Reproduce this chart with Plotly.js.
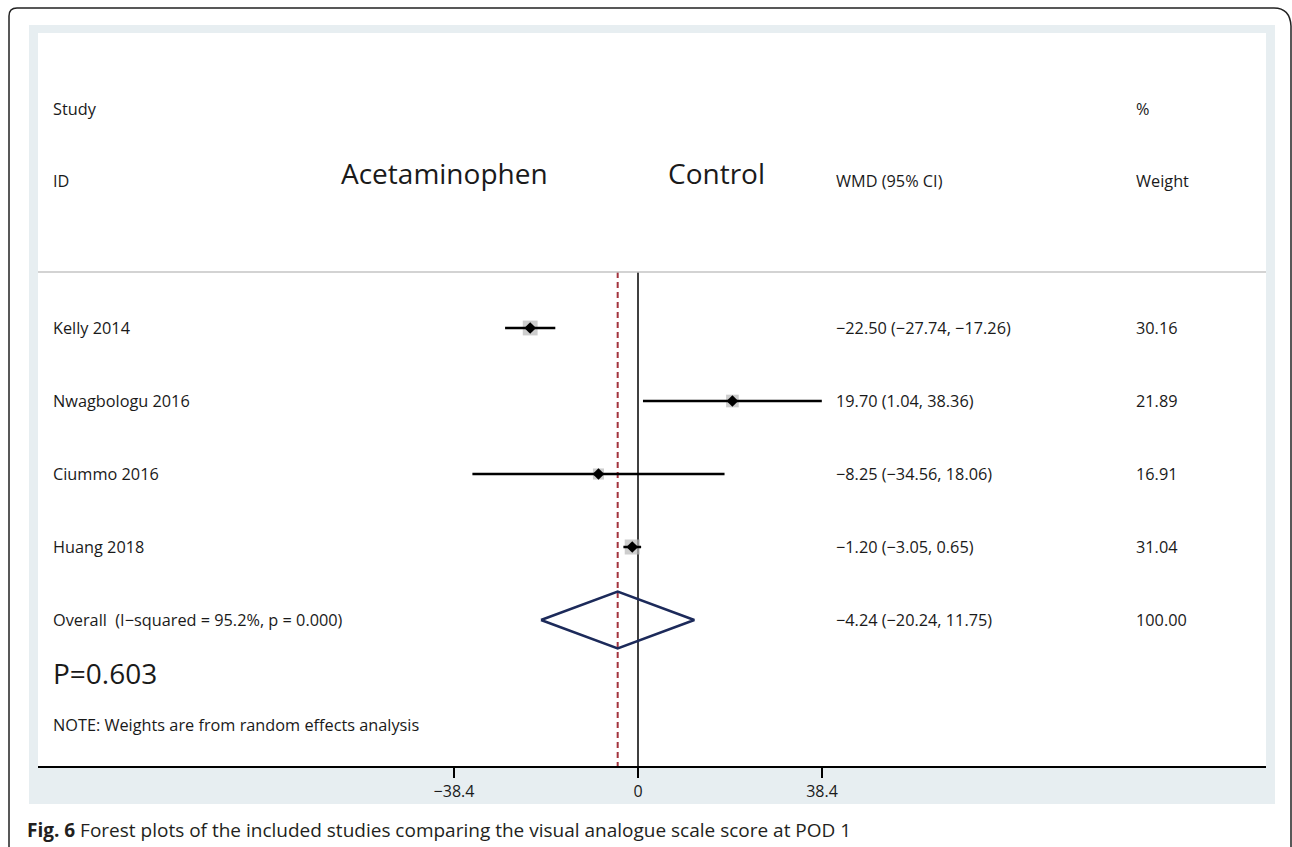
<!DOCTYPE html>
<html>
<head>
<meta charset="utf-8">
<script src="https://cdn.plot.ly/plotly-3.0.1.min.js"></script>
<style>
html,body{margin:0;padding:0;background:#fff;}
#chart{width:1292px;height:847px;}
</style>
</head>
<body>
<div id="chart"></div>
<script>
// ---- data ----
const studies = ["Kelly 2014", "Nwagbologu 2016", "Ciummo 2016", "Huang 2018"];
const estimates = [-22.50, 19.70, -8.25, -1.20];
const lowerCI = [-27.74, 1.04, -34.56, -3.05];
const upperCI = [-17.26, 38.36, 18.06, 0.65];
const weights = [30.16, 21.89, 16.91, 31.04];
const overallLabel = "Overall  (I\u2212squared = 95.2%, p = 0.000)";
const overallEst = -4.24;
const overallLower = -20.24;
const overallUpper = 11.75;
const overallWeight = 100.00;
const tickVals = [-38.4, 0, 38.4];
const tickText = ["\u221238.4", "0", "38.4"];
const nullValue = 0;
const pValueText = "P=0.603";
const noteText = "NOTE: Weights are from random effects analysis";
const captionBold = "Fig. 6";
const captionText = "Forest plots of the included studies comparing the visual analogue scale score at POD 1";

// ---- helpers ----
const fmt = v => (v < 0 ? "\u2212" : "") + Math.abs(v).toFixed(2);
const ciText = (e, l, u) => fmt(e) + " (" + fmt(l) + ", " + fmt(u) + ")";

const rows = studies.map((s, i) => i + 1);
const overallRow = studies.length + 1;
const headerLineY = 0.233;
const yBottom = 7.0;
const yTop = -3.041;

// pixel->paper helpers for frame decoration
const PL = 38, PR = 1266, PT = 33, PB = 766;
const X = px => (px - PL) / (PR - PL);
const Y = py => (PB - py) / (PB - PT);

const FONT = "Open Sans, Noto Sans, sans-serif";
const txtFont = {family: FONT, size: 16.3, color: "#1a1a1a"};
const bigFont = {family: FONT, size: 28, color: "#1a1a1a"};

// CI lines
const ciX = [], ciY = [];
rows.forEach((r, i) => { ciX.push(lowerCI[i], upperCI[i], null); ciY.push(r, r, null); });

const traces = [
  { // reference (null) line
    x: [nullValue, nullValue], y: [headerLineY, yBottom], mode: "lines",
    line: {color: "#000", width: 1.5}, hoverinfo: "skip", showlegend: false
  },
  { // pooled estimate dashed line
    x: [overallEst, overallEst], y: [headerLineY, yBottom], mode: "lines",
    line: {color: "#a3333d", width: 2, dash: "6px,4px"}, hoverinfo: "skip", showlegend: false
  },
  { // weight squares
    x: estimates, y: rows, mode: "markers",
    marker: {symbol: "square", color: "#b8b8b8", size: weights.map(w => 2.7 * Math.sqrt(w)), line: {width: 0}},
    hoverinfo: "skip", showlegend: false
  },
  { // CI lines
    x: ciX, y: ciY, mode: "lines",
    line: {color: "#000", width: 2.5}, hoverinfo: "skip", showlegend: false
  },
  { // point estimates
    x: estimates, y: rows, mode: "markers",
    marker: {symbol: "diamond", color: "#000", size: 9},
    hoverinfo: "skip", showlegend: false
  },
  { // overall diamond
    x: [overallLower, overallEst, overallUpper, overallEst, overallLower],
    y: [overallRow, overallRow - 0.39, overallRow, overallRow + 0.39, overallRow],
    mode: "lines", line: {color: "#1c2a5a", width: 2.5},
    hoverinfo: "skip", showlegend: false
  }
];

const annotations = [];
function addText(text, xp, yv, font, xanchor) {
  annotations.push({text: text, x: xp, xref: "paper", y: yv, yref: "y",
    xanchor: xanchor || "left", yanchor: "middle", showarrow: false, font: font || txtFont});
}
const colLabel = X(51), colCI = X(834), colW = X(1134);
// header
addText("Study", colLabel, -2.0);
addText("ID", colLabel, -1.014);
addText("%", colW, -2.0);
addText("Weight", colW, -1.014);
addText("WMD (95% CI)", colCI, -1.014);
addText("Acetaminophen", X(444), -1.12, bigFont, "center");
addText("Control", X(716), -1.12, bigFont, "center");
// rows
studies.forEach((s, i) => {
  addText(s, colLabel, rows[i]);
  addText(ciText(estimates[i], lowerCI[i], upperCI[i]), colCI, rows[i]);
  addText(weights[i].toFixed(2), colW, rows[i]);
});
addText(overallLabel, colLabel, overallRow);
addText(ciText(overallEst, overallLower, overallUpper), colCI, overallRow);
addText(overallWeight.toFixed(2), colW, overallRow);
addText(pValueText, X(51), 5.726, bigFont);
addText(noteText, colLabel, 6.438);
// caption
annotations.push({
  text: "<b>" + captionBold + "</b> " + captionText,
  x: X(25), xref: "paper", y: Y(830), yref: "paper", xanchor: "left", yanchor: "middle",
  showarrow: false, font: {family: FONT, size: 19, color: "#231f20"}
});

const shapes = [
  { // light blue frame
    type: "rect", xref: "paper", yref: "paper", layer: "below",
    x0: X(29), x1: X(1275), y0: Y(804), y1: Y(25),
    fillcolor: "#e7eef1", line: {width: 0}
  },
  { // white plot panel
    type: "rect", xref: "paper", yref: "paper", layer: "below",
    x0: 0, x1: 1, y0: 0, y1: 1,
    fillcolor: "#ffffff", line: {width: 0}
  },
  { // outer rounded border
    type: "path", xref: "paper", yref: "paper", layer: "below",
    path: "M " + X(9) + " " + Y(880) + " L " + X(9) + " " + Y(16) +
          " Q " + X(9) + " " + Y(8) + " " + X(17) + " " + Y(8) +
          " L " + X(1274) + " " + Y(8) +
          " Q " + X(1290) + " " + Y(8) + " " + X(1291) + " " + Y(26) +
          " L " + X(1291) + " " + Y(880),
    line: {color: "#222", width: 1.5}
  },
  { // header separator
    type: "line", xref: "paper", yref: "y", x0: 0, x1: 1, y0: headerLineY, y1: headerLineY,
    line: {color: "#c4c4c4", width: 1.5}
  }
];

const layout = {
  width: 1292, height: 847,
  margin: {l: PL, r: 1292 - PR, t: PT, b: 847 - PB},
  paper_bgcolor: "#ffffff", plot_bgcolor: "rgba(0,0,0,0)",
  font: {family: FONT},
  xaxis: {
    range: [(PL - 638) / (184 / 38.4), (PR - 638) / (184 / 38.4)],
    tickvals: tickVals, ticktext: tickText, ticks: "outside", ticklen: 10, tickwidth: 1.5,
    tickcolor: "#000", showline: true, linecolor: "#000", linewidth: 1.5,
    showgrid: false, zeroline: false, tickfont: {family: FONT, size: 16, color: "#1a1a1a"},
    fixedrange: true
  },
  yaxis: {range: [yBottom, yTop], visible: false, showgrid: false, zeroline: false, fixedrange: true},
  shapes: shapes,
  annotations: annotations,
  showlegend: false
};

Plotly.newPlot("chart", traces, layout, {displayModeBar: false, staticPlot: true});
</script>
</body>
</html>
